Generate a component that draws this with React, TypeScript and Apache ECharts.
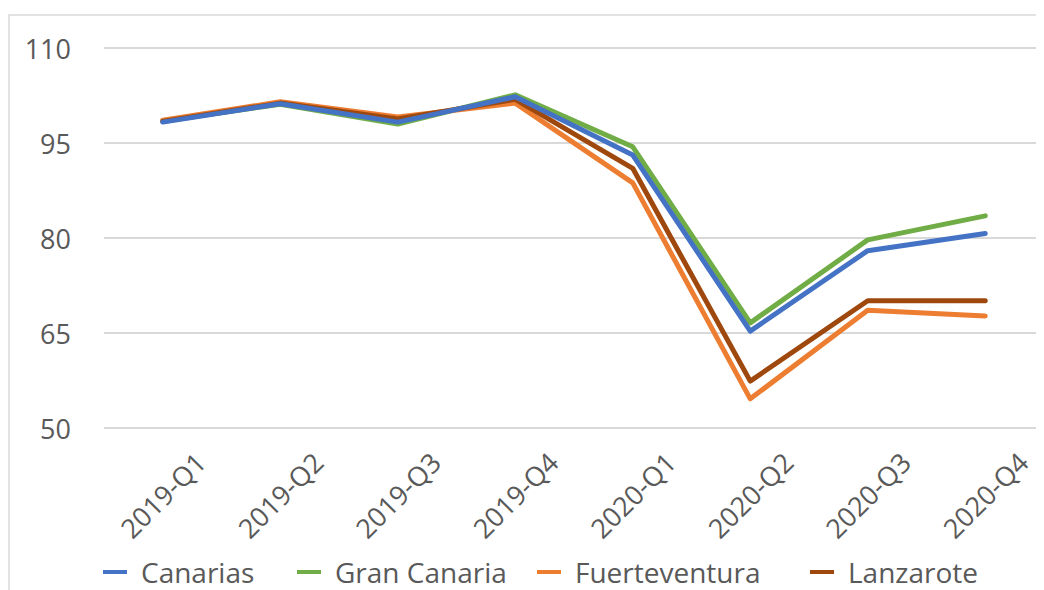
import React, { useEffect, useRef } from "react";
import * as echarts from "echarts";

const categories = ["2019-Q1", "2019-Q2", "2019-Q3", "2019-Q4", "2020-Q1", "2020-Q2", "2020-Q3", "2020-Q4"];
const canarias = [98.3, 101.2, 98.3, 102.3, 93.1, 65.3, 78.0, 80.7];
const granCanaria = [98.5, 101.1, 98.0, 102.6, 94.4, 66.6, 79.7, 83.5];
const fuerteventura = [98.6, 101.5, 99.1, 101.3, 88.7, 54.6, 68.6, 67.7];
const lanzarote = [98.4, 101.3, 98.8, 101.9, 91.0, 57.4, 70.1, 70.1];
const yTicks = [50, 65, 80, 95, 110];

const seriesNames = ["Canarias", "Gran Canaria", "Fuerteventura", "Lanzarote"];
const seriesData = [canarias, granCanaria, fuerteventura, lanzarote];
const colors = ["#4472C4", "#70AD47", "#ED7D31", "#9E480E"];
const zOrder = [10, 7, 8, 9];
const legendLefts = [95, 289, 529, 802];

export default function App() {
  const ref = useRef<HTMLDivElement>(null);
  useEffect(() => {
    if (!ref.current) return;
    const chart = echarts.init(ref.current, undefined, { renderer: "svg" });
    const font = "'Open Sans', sans-serif";
    chart.setOption({
      animation: false,
      color: colors,
      graphic: [
        {
          type: "rect",
          shape: { x: 1, y: 7, width: 1100, height: 700 },
          style: { fill: "none", stroke: "#d9d9d9", lineWidth: 1.5 },
          silent: true,
          z: -10,
        },
      ],
      grid: { left: 96, top: 40, width: 948, height: 380, containLabel: false },
      xAxis: {
        type: "category",
        data: categories,
        boundaryGap: true,
        axisLine: { show: false },
        axisTick: { show: false },
        axisLabel: {
          interval: 0,
          rotate: 45,
          align: "center",
          verticalAlign: "middle",
          margin: 67,
          color: "#595959",
          fontFamily: font,
          fontSize: 27,
        },
      },
      yAxis: {
        type: "value",
        min: yTicks[0],
        max: yTicks[yTicks.length - 1],
        interval: 15,
        axisLine: { show: false },
        axisTick: { show: false },
        axisLabel: {
          margin: 33,
          color: "#595959",
          fontFamily: font,
          fontSize: 27,
        },
        splitLine: { lineStyle: { color: "#d9d9d9", width: 2 } },
      },
      legend: seriesNames.map((name, i) => ({
        data: [name],
        left: legendLefts[i],
        top: 550,
        padding: 0,
        icon: "rect",
        itemWidth: 24,
        itemHeight: 4,
        textStyle: {
          color: "#595959",
          fontFamily: font,
          fontSize: 28,
          lineHeight: 28,
          padding: [0, 0, 0, 9],
        },
      })),
      series: seriesNames.map((name, i) => ({
        name,
        type: "line",
        data: seriesData[i],
        symbol: "none",
        z: zOrder[i],
        lineStyle: { width: 5, color: colors[i], cap: "round", join: "round" },
        itemStyle: { color: colors[i] },
      })),
    });
    return () => chart.dispose();
  }, []);
  return <div ref={ref} style={{ width: 1036, height: 582 }} />;
}
